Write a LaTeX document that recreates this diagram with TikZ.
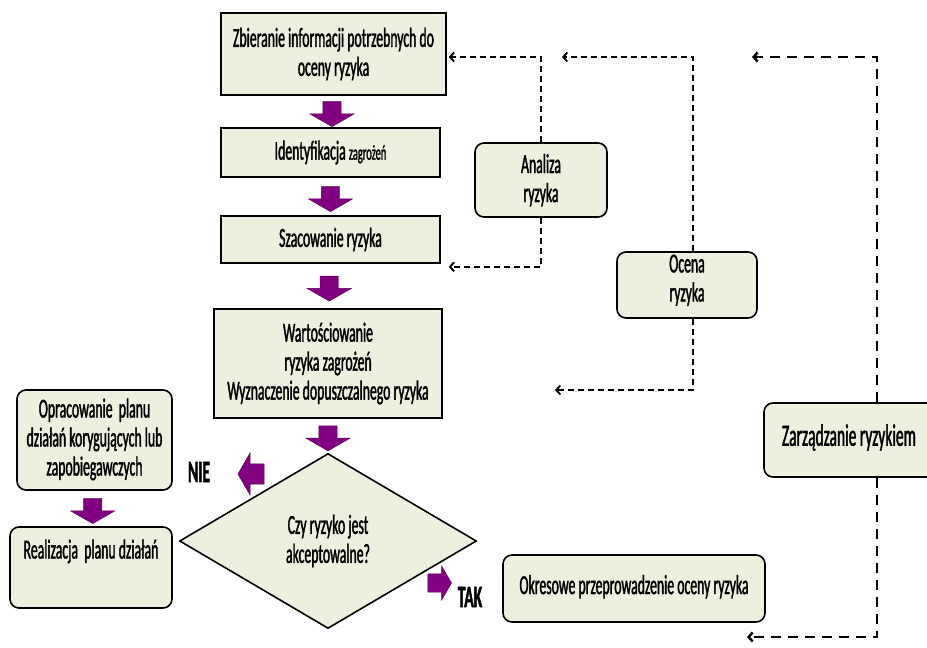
\documentclass[tikz,border=0pt]{standalone}
\usepackage{fontspec}
\setmainfont{Carlito}[FakeStretch=0.5,FakeBold=1.3]
\usetikzlibrary{arrows.meta,calc,shapes.geometric,shapes.arrows}
\definecolor{boxfill}{HTML}{EBF1DE}
\definecolor{arrfill}{HTML}{800080}
\definecolor{arrline}{HTML}{5A005A}
\newcommand{\txt}{\fontsize{27.5}{29}\selectfont}
\tikzset{>={Straight Barb[length=4pt,width=9pt]},every node/.style={font=\txt},
box/.style={draw,line width=1.6pt,fill=boxfill,align=center,inner sep=0pt},
rbox/.style={box,rounded corners=9pt},
fat/.style={single arrow,draw=arrline,fill=arrfill,inner sep=9pt,minimum height=25pt,single arrow head extend=13pt,single arrow tip angle=120},
link/.style={line width=1.9pt,dash pattern=on 6pt off 4pt},
mainlink/.style={line width=2.4pt,dash pattern=on 10pt off 7pt}}
\begin{document}
\begin{tikzpicture}[x=1pt,y=-1pt]
\clip (0,0) rectangle (927,648);
\fill[white] (0,0) rectangle (927,648);
% main chain
\node[box,minimum width=225pt,minimum height=82pt] (zb) at (333.5,54) {Zbieranie informacji potrzebnych do\\oceny ryzyka};
\node[box,minimum width=219pt,minimum height=49pt] (id) at (330.5,152.5) {Identyfikacja {\fontsize{21}{22}\selectfont zagrożeń}};
\node[box,minimum width=219pt,minimum height=47pt] (sz) at (330.5,239.5) {Szacowanie ryzyka};
\node[box,minimum width=228pt,minimum height=109pt] (wa) at (328,363.5) {Wartościowanie\\ryzyka zagrożeń\\Wyznaczenie dopuszczalnego ryzyka};
\node[diamond,draw,line width=1.6pt,fill=boxfill,align=center,inner sep=0pt,minimum width=297pt,minimum height=175pt] (cz) at (328,541) {Czy ryzyko jest\\akceptowalne?};
\foreach \a/\b in {zb/id,id/sz,sz/wa,wa/cz}
  \node[fat,shape border rotate=270] (f-\a) at ($(\a.south)!.5!(\b.north)$) {};
% side boxes
\node[rbox,minimum width=155pt,minimum height=100pt,text depth=6pt] (op) at (94.5,440) {Opracowanie\ \ planu\\działań korygujących lub\\zapobiegawczych};
\node[rbox,minimum width=162pt,minimum height=81pt] (re) at (91,567.5) {Realizacja\ \ planu działań\\[8pt]\mbox{}};
\node[fat,shape border rotate=270] (f-op) at ($(op.south)!.5!(re.north)$) {};
\node[fat,shape border rotate=180,minimum height=24pt,inner sep=10pt,single arrow head extend=11pt] (f-nie) at (254,474) {};
\node[fat,minimum height=21pt,inner sep=9pt,single arrow head extend=8pt] (f-tak) at (437,583) {};
\node[font=\fontsize{31}{31}\selectfont\bfseries] (nie) at (199,472) {NIE};
\node[font=\fontsize{31}{31}\selectfont\bfseries] (tak) at (470,597) {TAK};
\node[rbox,minimum width=262pt,minimum height=67pt,text depth=8pt] (ok) at (634,588.5) {Okresowe przeprowadzenie oceny ryzyka};
\node[rbox,minimum width=132pt,minimum height=74pt,text depth=4pt] (an) at (541,180) {Analiza\\ryzyka};
\node[rbox,minimum width=140pt,minimum height=66pt,text depth=14pt] (oc) at (687,285) {Ocena\\ryzyka};
\node[rbox,minimum height=74pt,text width=190pt,inner xsep=18pt,align=flush left,text depth=10pt] (zr) at (877,440) {\fontsize{31}{31}\selectfont Zarządzanie ryzykiem};
% dashed feedback
\coordinate (oc1) at (562,57);
\coordinate (oc2) at (555,390);
\coordinate (zr1) at (752,57);
\coordinate (zr2) at (747,637);
\draw[link,->] (an.north) |- ([xshift=2pt,yshift=-3pt]zb.east);
\draw[link,->] (an.south) |- ([xshift=8pt,yshift=-3pt]sz.south east);
\draw[link,->] ([xshift=6pt]oc.north) |- (oc1);
\draw[link,->] ([xshift=6pt]oc.south) |- (oc2);
\draw[mainlink,->] (zr.north) |- (zr1);
\draw[mainlink,->] (zr.south) |- (zr2);
\end{tikzpicture}
\end{document}
